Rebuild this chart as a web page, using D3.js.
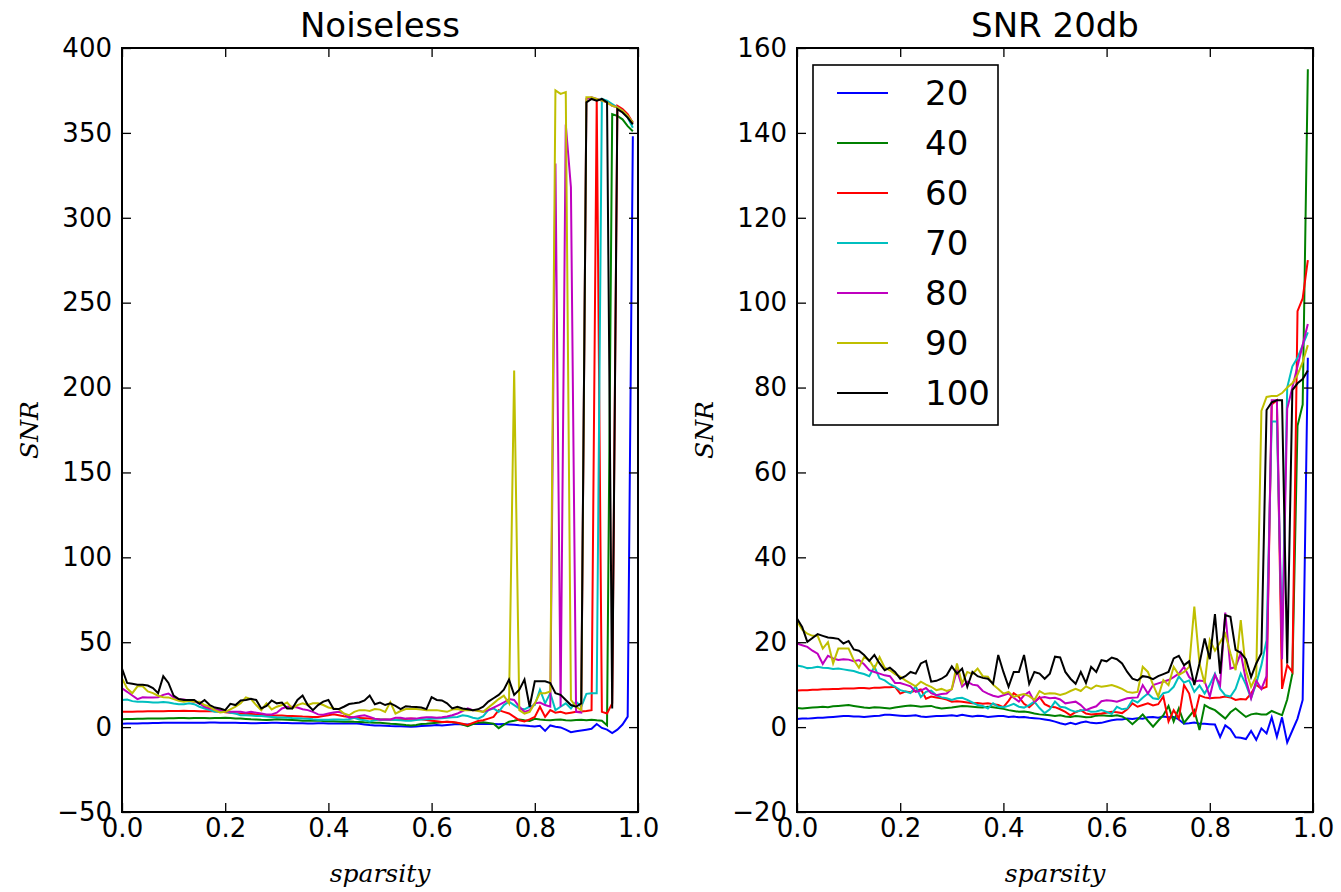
<!DOCTYPE html>
<html>
<head>
<meta charset="utf-8">
<script src="https://cdn.jsdelivr.net/npm/d3@7"></script>
<style>
	body { margin: 0; background: #fff; }
	text { font-family: 'DejaVu Sans', sans-serif; }
</style>
</head>
<body>
<svg id="chart" width="1341" height="892"></svg>
<script>
// sparsity grid, 0.00 .. 0.99
const sparsity = d3.range(100).map((i) => i / 100)

const labels = ['20', '40', '60', '70', '80', '90', '100']
const colors = ['#0000ff', '#008000', '#ff0000', '#00bfbf', '#bf00bf', '#bfbf00', '#000000']

// --- Noiseless panel ---
const noiseless20 = [
	2.0,2.1,2.1,2.2,2.3,2.3,2.4,2.4,2.5,2.5, 2.5,2.6,2.6,2.5,2.5,2.6,2.6,2.7,2.7,2.6,
	2.6,2.5,2.5,2.4,2.4,2.3,2.3,2.4,2.4,2.5, 2.5,2.4,2.4,2.3,2.3,2.3,2.2,2.2,2.3,2.3,
	2.2,2.2,2.1,2.1,2.2,2.2,2.0,1.6,1.2,1.0, 0.9,0.8,0.6,0.5,0.5,0.3,0.2,0.4,0.6,0.8,
	1.0,1.2,1.0,1.3,1.5,1.8,1.6,1.5,1.8,1.9, 1.8,1.8,1.9,1.7,1.8,1.6,1.4,1.1,1.0,0.6,
	0.3,0.8,-2.2,1.0,0.2,-0.2,-1.5,-3.0,-2.5,-2.0, -1.5,-1.0,1.8,-0.5,-1.5,-3.5,-1.5,1.5,6.2,348]
const noiseless40 = [
	4.7,4.8,4.8,4.9,4.9,5.0,5.0,5.1,5.1,5.2, 5.2,5.3,5.3,5.2,5.3,5.4,5.3,5.2,5.3,5.4,
	5.5,5.3,5.1,5.0,4.8,4.6,4.5,4.3,4.2,4.4, 4.6,4.5,4.3,4.2,4.0,3.8,3.7,3.8,3.9,3.6,
	3.5,3.4,3.3,3.2,3.3,3.1,3.0,2.8,2.7,2.6, 2.5,2.3,2.0,1.8,1.5,1.2,1.0,1.3,1.8,2.0,
	2.3,2.6,2.9,3.1,2.8,2.5,1.5,0.5,1.8,2.5, 2.8,2.4,2.0,-0.6,1.5,3.2,3.8,4.5,4.0,3.6,
	4.9,4.5,4.2,4.0,4.3,4.5,4.1,3.9,4.2,4.3, 4.0,4.4,4.0,3.8,1.1,361,360,358,354,351]
const noiseless60 = [
	9.0,9.1,9.1,9.2,9.2,9.3,9.3,9.4,9.4,9.5, 9.5,9.5,9.6,9.5,9.5,9.4,9.4,9.3,9.3,9.2,
	8.8,8.5,8.2,8.0,7.8,7.7,7.5,7.3,7.2,7.0, 6.9,6.8,6.6,6.5,6.4,6.2,6.1,6.0,5.9,6.5,
	7.0,7.5,7.0,6.4,6.0,5.6,5.4,5.2,5.0,4.8, 4.6,4.5,4.4,4.3,4.6,4.8,5.0,4.8,4.6,4.2,
	3.8,3.4,3.0,3.2,3.0,2.6,2.0,1.3,2.5,3.6, 4.0,5.0,6.0,10.0,9.0,8.0,6.0,4.0,3.3,4.6,
	6.0,12.0,6.0,10.0,8.5,9.0,8.0,8.5,9.0,9.2, 9.5,10.0,370,9.0,8.0,14.0,366,364,361,356]
const noiseless70 = [
	15.9,16.2,15.3,15.0,15.0,14.8,14.5,14.5,14.8,14.5, 13.9,13.5,13.5,14.0,13.5,12.0,11.0,10.0,9.0,9.0,
	9.5,8.5,8.0,7.0,7.0,6.8,6.5,6.5,6.2,6.0, 5.8,5.7,5.5,5.3,5.2,5.0,4.9,4.6,4.4,4.3,
	4.3,4.5,4.5,4.4,4.6,5.5,4.5,4.0,3.3,4.0, 4.5,4.3,4.4,4.2,4.0,3.8,3.8,4.2,4.5,4.7,
	4.9,5.0,5.2,5.5,5.8,6.0,7.0,6.5,5.5,5.0, 6.5,10.0,11.0,9.0,13.0,15.0,13.0,11.0,10.5,12.0,
	13.0,22.0,14.0,20.0,10.0,12.0,14.0,11.0,15.0,12.0, 19.6,20.0,20.0,370,369,367,365,363,359,353]
const noiseless80 = [
	22.8,20.8,18.6,16.5,17.6,17.5,17.5,17.6,19.0,19.8, 17.5,16.3,16.3,15.5,15.0,14.0,12.0,11.0,10.5,10.0,
	9.5,9.0,9.0,9.0,8.5,9.0,8.5,8.0,7.5,7.5, 8.5,11.0,12.0,12.0,11.5,10.5,10.0,9.0,7.5,7.3,
	8.0,8.6,9.0,8.0,5.6,6.0,6.5,7.0,6.0,5.0, 4.3,4.5,4.5,5.5,5.5,5.0,5.0,5.0,5.5,5.8,
	5.8,5.5,5.8,6.2,7.0,8.0,9.5,11.0,10.0,10.0, 9.0,10.0,11.5,13.0,14.5,16.5,16.0,12.0,9.0,10.0,
	14.0,14.5,13.0,12.0,332,12.0,355,318,9.0,8.5, 370,371,370,369,368,366,365,363,360,356]
const noiseless90 = [
	28.7,22.8,20.0,24.0,24.0,21.0,20.0,18.5,17.6,17.5, 16.5,15.5,15.0,15.5,15.0,15.0,13.0,12.0,10.0,8.6,
	9.0,10.5,12.0,14.0,17.5,16.5,13.0,10.0,14.0,10.4, 12.0,13.0,14.5,11.0,13.0,14.0,13.0,14.0,14.0,13.0,
	11.6,11.0,10.6,8.0,7.0,9.0,10.0,10.0,9.5,10.6, 10.3,8.9,14.7,8.0,9.5,10.6,10.6,10.6,10.3,10.0,
	10.0,10.0,9.5,9.0,10.3,10.6,10.0,10.0,10.0,9.5, 9.0,11.6,14.0,16.5,18.5,14.0,210,10.0,8.0,9.0,
	14.0,20.0,20.0,21.0,375,373,374,16.0,12.0,10.0, 371,371,370,369,368,366,365,363,360,356]
const noiseless100 = [
	34.5,26.0,25.5,25.0,25.0,24.5,23.0,20.0,30.0,26.0, 18.6,16.5,16.0,16.0,16.0,13.7,16.0,13.0,11.5,11.0,
	10.0,13.7,13.0,15.7,16.0,16.7,16.0,11.0,12.5,15.7, 14.0,14.5,11.0,11.0,16.0,18.6,13.0,10.0,13.0,15.0,
	16.0,10.6,10.6,12.0,13.6,14.0,14.5,15.7,18.6,13.5, 14.5,13.0,14.0,12.5,10.6,12.3,12.0,11.8,11.5,10.6,
	17.7,16.0,15.7,14.0,11.0,12.0,11.0,10.5,10.0,10.5, 12.0,15.0,17.0,19.0,22.0,28.0,19.0,22.0,28.0,12.0,
	27.0,27.0,27.0,26.0,20.0,19.0,16.0,13.0,12.0,14.0, 368,370,369,370,368,11.0,364,362,359,355]

// --- SNR 20db panel ---
const snr20 = [
	1.9,2.0,2.0,2.1,2.2,2.2,2.3,2.4,2.5,2.6, 2.6,2.5,2.5,2.4,2.5,2.6,2.7,2.9,2.9,2.8,
	2.7,2.6,2.7,2.8,2.5,2.4,2.5,2.6,2.6,2.7, 2.8,2.6,2.9,2.7,2.5,2.7,2.6,2.4,2.5,2.6,
	2.6,2.4,2.5,2.3,2.4,2.2,2.1,2.0,1.8,1.6, 1.3,0.9,0.6,1.0,0.7,1.1,1.3,1.0,0.9,1.0,
	1.3,1.6,1.8,1.8,2.0,1.9,2.1,2.0,2.3,2.4, 2.2,2.5,2.3,2.4,1.8,0.8,0.9,1.1,0.8,0.8,
	0.7,0.6,-2.3,0.4,-0.5,-2.4,-2.5,-2.8,-0.9,-3.0, -0.3,-1.5,2.3,-2.3,2.3,-3.6,-0.8,2.0,6.4,87]
const snr40 = [
	4.5,4.4,4.5,4.6,4.7,4.8,4.7,4.9,5.0,5.1, 5.2,5.0,4.8,4.6,4.5,4.7,4.6,4.5,4.4,4.6,
	4.8,5.0,5.1,5.0,4.8,4.9,5.0,4.6,4.4,4.5, 4.6,4.8,5.0,4.9,4.8,4.7,4.6,4.8,4.7,4.5,
	4.3,4.0,3.8,3.6,3.7,3.5,3.2,3.0,2.9,2.8, 2.6,2.8,2.5,2.4,2.6,2.5,2.3,2.4,2.7,2.8,
	2.7,2.6,2.8,2.5,1.8,0.7,1.8,3.0,1.5,0.1, 1.5,2.8,5.0,1.3,4.4,1.0,2.5,4.0,-0.7,5.2,
	4.5,4.0,3.0,2.0,3.5,4.4,3.4,2.4,3.0,3.2, 3.0,3.0,3.8,3.3,2.8,6.5,12.6,71,76,155]
const snr60 = [
	8.6,8.7,8.7,8.8,8.8,8.9,8.9,9.0,9.0,9.1, 9.1,9.1,9.2,9.2,9.1,9.3,9.3,9.4,9.4,9.5,
	7.9,8.4,8.2,8.6,8.9,6.7,7.2,7.0,6.8,6.5, 6.0,6.1,6.0,5.8,5.6,5.7,5.5,5.6,5.4,5.2,
	4.7,6.2,8.0,7.1,5.5,4.7,5.8,7.1,5.4,4.8, 4.7,4.2,3.6,2.8,3.5,4.0,3.2,3.0,3.1,3.2,
	3.4,3.6,3.5,3.3,4.2,5.6,4.8,5.2,5.6,5.1, 5.4,7.2,1.3,4.0,2.0,9.9,7.9,2.4,7.5,7.0,
	6.8,6.9,7.0,7.2,7.0,6.4,6.6,6.5,7.9,10.0, 9.0,9.5,76,77,9.0,14.6,13.0,98,101,110]
const snr70 = [
	14.5,14.3,13.9,14.0,14.2,14.0,13.9,13.7,13.8,13.6, 13.4,13.2,12.8,12.5,12.0,14.2,11.5,11.0,10.1,9.5,
	8.7,8.4,8.0,9.6,7.1,8.3,8.6,7.5,7.0,6.8, 6.4,6.8,6.9,6.4,5.8,5.2,5.0,4.4,5.6,4.8,
	4.7,5.0,5.5,4.8,4.6,5.2,6.0,4.5,3.3,4.2, 6.0,4.8,4.6,4.0,3.6,3.9,4.1,3.6,3.7,4.0,
	3.6,3.1,4.8,4.2,4.4,6.4,5.8,6.9,7.9,6.8, 6.6,8.0,8.3,9.5,11.9,10.5,11.0,8.3,9.8,7.9,
	10.0,12.6,9.0,7.5,7.2,9.0,12.6,10.0,6.8,10.3, 14.6,20.5,72,72,20.0,80,85,87,90,93]
const snr80 = [
	19.7,19.3,18.9,18.0,17.3,14.9,16.8,16.2,15.8,16.0, 15.9,15.5,15.8,14.8,13.4,13.0,12.6,12.2,12.0,10.4,
	10.4,10.0,9.6,8.3,8.6,9.2,8.0,7.5,7.8,7.9, 9.0,13.4,9.6,10.7,10.0,9.8,8.5,7.9,7.4,7.1,
	7.5,7.9,6.9,6.0,7.5,8.3,6.0,6.9,7.1,6.8, 6.9,6.5,5.6,5.8,6.0,5.2,4.0,4.5,4.9,6.1,
	6.3,6.2,6.0,6.4,6.8,6.9,7.0,9.9,7.9,9.9, 10.3,10.7,11.1,11.8,12.6,14.2,11.8,10.7,11.0,10.8,
	7.2,12.3,9.9,27.0,13.8,14.2,17.4,11.1,6.8,11.0, 9.0,12.0,77,77,16.0,75,80,85,90,95]
const snr90 = [
	25.0,23.0,22.0,21.5,21.5,18.5,20.0,15.0,18.5,18.5, 18.5,15.8,14.0,16.5,15.8,13.8,16.5,14.0,13.4,12.5,
	11.9,11.0,10.3,9.6,10.7,10.0,9.5,8.7,9.0,8.5, 8.9,15.0,10.3,13.0,12.5,13.8,12.0,11.9,10.0,9.0,
	7.9,8.3,7.1,7.5,7.8,7.3,6.4,8.5,7.8,8.0, 7.9,7.6,7.9,8.5,9.0,8.5,9.6,9.0,9.8,9.5,
	9.7,9.9,9.5,9.0,8.3,8.1,8.3,14.2,13.0,10.0, 7.2,11.1,9.9,14.2,12.3,13.0,14.2,28.4,15.0,10.3,
	20.5,18.0,20.0,22.0,17.4,13.4,25.2,13.4,9.5,12.0, 74.5,77.8,78,78,78.7,80,81,83,86,90]
const snr100 = [
	25.6,23.6,20.1,21.0,21.9,21.5,21.1,21.0,20.8,19.7, 20.3,18.3,18.0,17.0,15.6,17.0,15.0,13.4,14.0,13.0,
	11.4,12.0,13.0,12.6,15.0,15.6,10.7,10.9,11.4,12.2, 14.3,12.6,13.8,9.5,13.0,12.0,11.6,11.4,10.2,17.0,
	13.0,9.5,13.0,13.0,17.0,10.2,13.0,12.6,11.4,12.6, 16.6,16.4,13.0,11.4,10.2,13.0,10.4,14.2,13.0,15.8,
	15.5,16.4,16.0,15.0,13.0,11.4,11.0,12.0,11.8,11.3, 12.0,12.5,13.0,16.2,16.8,14.6,15.5,9.9,15.0,20.9,
	16.0,26.6,12.6,26.4,26.0,18.2,17.5,16.0,11.8,15.0, 17.4,74.7,76.5,77,77,15.0,79.4,81,82,84]

const noiselessSeries = [noiseless20, noiseless40, noiseless60, noiseless70, noiseless80, noiseless90, noiseless100]
const snrSeries = [snr20, snr40, snr60, snr70, snr80, snr90, snr100]

const xTicks = [0, 0.2, 0.4, 0.6, 0.8, 1.0]
const noiselessTicks = [-50, 0, 50, 100, 150, 200, 250, 300, 350, 400]
const snrTicks = [-20, 0, 20, 40, 60, 80, 100, 120, 140, 160]

const svg = d3.select('#chart')
const plotTop = 48
const plotBottom = 812
const tickLen = 9

const drawPanel = (opts) => {
	const x = d3.scaleLinear().domain([0, 1]).range([opts.left, opts.right])
	const y = d3.scaleLinear().domain(opts.yDomain).range([plotBottom, plotTop])
	const g = svg.append('g')

	g.append('clipPath').attr('id', opts.id + '-clip')
		.append('rect')
		.attr('x', opts.left).attr('y', plotTop)
		.attr('width', opts.right - opts.left).attr('height', plotBottom - plotTop)

	const line = d3.line()
		.x((d, i) => x(sparsity[i]))
		.y((d) => y(d))

	g.append('g')
		.attr('clip-path', 'url(#' + opts.id + '-clip)')
		.selectAll('path')
		.data(opts.series)
		.join('path')
			.attr('d', line)
			.attr('fill', 'none')
			.attr('stroke', (d, i) => colors[i])
			.attr('stroke-width', 2)

	// ticks inside on all four sides
	const fmtX = d3.format('.1f')
	const fmtY = d3.format('d')
	const axis = (gen, tr) => g.append('g')
		.attr('transform', tr)
		.call(gen)
		.call((a) => a.select('.domain').remove())
		.call((a) => a.selectAll('line').attr('stroke', '#000').attr('stroke-width', 1.3))
		.call((a) => a.selectAll('text').attr('font-size', 26).attr('fill', '#000'))

	axis(d3.axisBottom(x).tickValues(xTicks).tickFormat(fmtX).tickSizeInner(-tickLen).tickPadding(7), `translate(0,${plotBottom})`)
	axis(d3.axisTop(x).tickValues(xTicks).tickFormat('').tickSizeInner(-tickLen), `translate(0,${plotTop})`)
	axis(d3.axisLeft(y).tickValues(opts.yTicks).tickFormat(fmtY).tickSizeInner(-tickLen).tickPadding(10), `translate(${opts.left},0)`)
	axis(d3.axisRight(y).tickValues(opts.yTicks).tickFormat('').tickSizeInner(-tickLen), `translate(${opts.right},0)`)

	g.append('rect')
		.attr('x', opts.left).attr('y', plotTop)
		.attr('width', opts.right - opts.left).attr('height', plotBottom - plotTop)
		.attr('fill', 'none').attr('stroke', '#000').attr('stroke-width', 2)

	g.append('text')
		.attr('x', (opts.left + opts.right) / 2).attr('y', 37)
		.attr('text-anchor', 'middle')
		.attr('font-size', 34)
		.text(opts.title)

	g.append('text')
		.attr('x', (opts.left + opts.right) / 2).attr('y', 882)
		.attr('text-anchor', 'middle')
		.attr('font-size', 25)
		.style('font-family', "'DejaVu Serif', serif")
		.style('font-style', 'italic')
		.text('sparsity')

	g.append('text')
		.attr('transform', `translate(${opts.left - 84},${(plotTop + plotBottom) / 2}) rotate(-90)`)
		.attr('text-anchor', 'middle')
		.attr('font-size', 25)
		.style('font-family', "'DejaVu Serif', serif")
		.style('font-style', 'italic')
		.text('SNR')

	return { x, y, g }
}

drawPanel({ id: 'noiseless', left: 122, right: 638, yDomain: [-50, 400], yTicks: noiselessTicks, series: noiselessSeries, title: 'Noiseless' })
const snrPanel = drawPanel({ id: 'snr', left: 797, right: 1313, yDomain: [-20, 160], yTicks: snrTicks, series: snrSeries, title: 'SNR 20db' })

// legend
const legend = snrPanel.g.append('g').attr('transform', 'translate(813,65)')
legend.append('rect')
	.attr('width', 185).attr('height', 360)
	.attr('fill', '#fff').attr('stroke', '#000').attr('stroke-width', 1.6)
const items = legend.selectAll('g.item')
	.data(labels)
	.join('g')
		.attr('class', 'item')
		.attr('transform', (d, i) => `translate(0,${28 + i * 50})`)
items.append('line')
	.attr('x1', 24).attr('x2', 75)
	.attr('stroke', (d, i) => colors[i])
	.attr('stroke-width', 2)
items.append('text')
	.attr('x', 112).attr('dy', '0.36em')
	.attr('font-size', 34)
	.text((d) => d)
</script>
</body>
</html>
